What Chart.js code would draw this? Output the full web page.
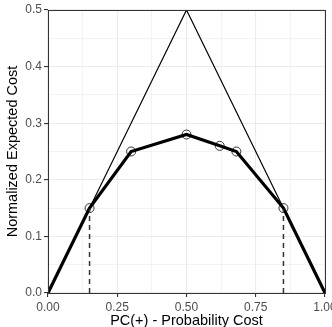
<!DOCTYPE html>
<html><head><meta charset="utf-8">
<script src="https://cdn.jsdelivr.net/npm/chart.js@4"></script>
<style>html,body{margin:0;padding:0;overflow:hidden;background:#fff}#wrap{width:332px;height:327px;overflow:hidden}</style>
</head><body><div id="wrap"><canvas id="c" width="332" height="327"></canvas></div>
<script>
const curveX = [0, 0.15, 0.30, 0.50, 0.62, 0.68, 0.85, 1.00];
const curveY = [0, 0.15, 0.25, 0.28, 0.26, 0.25, 0.15, 0];
const pointX = [0.15, 0.30, 0.50, 0.62, 0.68, 0.85];
const pointY = [0.15, 0.25, 0.28, 0.26, 0.25, 0.15];
const triX = [0, 0.5, 1];
const triY = [0, 0.5, 0];
const dashX = [0.15, 0.85];
const dashY = [0.15, 0.15];
const xTicks = [0, 0.25, 0.5, 0.75, 1];
const yTicks = [0, 0.1, 0.2, 0.3, 0.4, 0.5];

const zip = (xs, ys) => xs.map((x, i) => ({x, y: ys[i]}));
const dashSets = dashX.map((x, i) => ({
  data: [{x, y: 0}, {x, y: dashY[i]}],
  borderColor: '#333333', borderWidth: 1.5, borderDash: [5, 4],
  pointRadius: 0, showLine: true, fill: false
}));

const border = {
  id: 'border',
  afterDraw(chart) {
    const a = chart.chartArea, ctx = chart.ctx;
    ctx.save(); ctx.strokeStyle = '#333333'; ctx.lineWidth = 1;
    ctx.strokeRect(Math.round(a.left) + 0.5, Math.round(a.top) + 0.5, Math.round(a.right - a.left), Math.round(a.bottom - a.top));
    ctx.restore();
  }
};
const isMajor = (v, arr) => arr.some(t => Math.abs(t - v) < 1e-6);
const FONT = 'Liberation Sans, Arial, sans-serif';

new Chart(document.getElementById('c'), {
  type: 'scatter',
  data: {
    datasets: [
      { data: zip(triX, triY), borderColor: '#000', borderWidth: 1.2, pointRadius: 0, showLine: true, fill: false },
      ...dashSets,
      { data: zip(curveX, curveY), borderColor: '#000', borderWidth: 3.2, pointRadius: 0, showLine: true, fill: false },
      { data: zip(pointX, pointY), borderColor: '#333', backgroundColor: 'rgba(0,0,0,0)', borderWidth: 1, pointRadius: 4.5, showLine: false }
    ]
  },
  options: {
    responsive: false, animation: false,
    layout: { padding: { top: 10, right: 7, bottom: -3, left: 4 } },
    plugins: { legend: { display: false }, tooltip: { enabled: false } },
    scales: {
      x: {
        type: 'linear', min: 0, max: 1,
        afterBuildTicks: s => { s.ticks = []; for (let i = 0; i <= 8; i++) s.ticks.push({value: i * 0.125}); },
        afterFit: s => { s.height = 37; s.paddingRight = 0; s.paddingLeft = 0; },
        ticks: { autoSkip: false, maxRotation: 0, color: '#4D4D4D', font: {family: FONT, size: 12}, padding: 3,
          callback: v => isMajor(v, xTicks) ? v.toFixed(2) : '' },
        grid: { color: '#EBEBEB', lineWidth: ctx => isMajor(ctx.tick ? ctx.tick.value : 0, xTicks) ? 1.1 : 0.6,
          tickColor: ctx => isMajor(ctx.tick ? ctx.tick.value : 0, xTicks) ? '#333333' : 'rgba(0,0,0,0)', tickLength: 4 },
        border: { display: false },
        title: { display: true, text: 'PC(+) - Probability Cost', color: '#000', font: {family: FONT, size: 14.5}, padding: {top: 0, bottom: 0} }
      },
      y: {
        type: 'linear', min: 0, max: 0.5,
        afterBuildTicks: s => { s.ticks = []; for (let i = 0; i <= 10; i++) s.ticks.push({value: i * 0.05}); },
        afterFit: s => { s.width = 44; s.paddingTop = 0; s.paddingBottom = 0; },
        ticks: { autoSkip: false, color: '#4D4D4D', font: {family: FONT, size: 12}, padding: 2,
          callback: v => isMajor(v, yTicks) ? v.toFixed(1) : '' },
        grid: { color: '#EBEBEB', lineWidth: ctx => isMajor(ctx.tick ? ctx.tick.value : 0, yTicks) ? 1.1 : 0.6,
          tickColor: ctx => isMajor(ctx.tick ? ctx.tick.value : 0, yTicks) ? '#333333' : 'rgba(0,0,0,0)', tickLength: 4 },
        border: { display: false },
        title: { display: true, text: 'Normalized Expected Cost', color: '#000', font: {family: FONT, size: 14.5}, padding: {top: 0, bottom: 0} }
      }
    }
  },
  plugins: [border]
});
</script></body></html>
